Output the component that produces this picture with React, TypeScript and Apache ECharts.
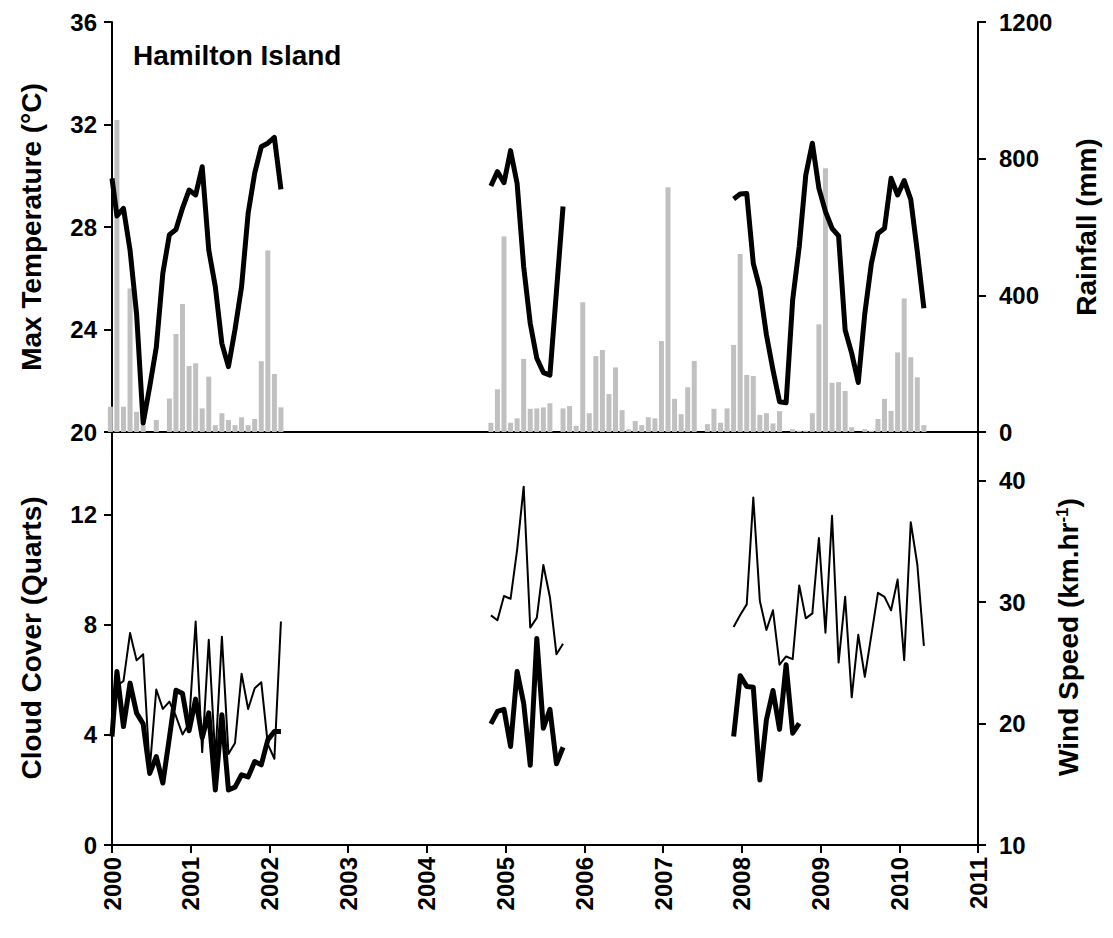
import React, { useEffect, useRef } from "react";
import * as echarts from "echarts";

// Month position inside each month (fraction of month) for plotting on the year axis
const DAY_OFFSET = 0.75;

// Segment start months [year, month]
const startA = [2000, 1];
const startRainA = [1999, 12];
const startB = [2004, 10];
const startC = [2007, 11];

// Values where the first segment enters the plot at 1 Jan 2000
const tempAt2000 = 29.9;
const cloudAt2000 = 3.94;
const windAt2000 = 19.0;

// Max temperature (°C)
const tempA = [28.43, 28.73, 27.1, 24.6, 20.35, 21.77, 23.3, 26.2, 27.7, 27.9, 28.74, 29.44,
  29.25, 30.35, 27.1, 25.67, 23.45, 22.55, 24.0, 25.67, 28.53, 30.1, 31.13, 31.27, 31.5, 29.47];
const tempB = [29.6, 30.16, 29.73, 30.98, 29.7, 26.45, 24.24, 22.88, 22.32, 22.22, 25.5, 28.8];
const tempC = [29.09, 29.29, 29.31, 26.58, 25.6, 23.79, 22.42, 21.18, 21.14, 25.15, 27.23, 30.03, 31.27,
  29.51, 28.6, 27.95, 27.65, 23.98, 23.07, 21.93, 24.63, 26.58, 27.75, 27.95, 29.9, 29.25,
  29.81, 29.08, 27.04, 24.83];

// Rainfall (mm)
const rainA = [74, 913, 74, 420, 59, 20, 0, 35, 0, 98, 287, 375, 193,
  201, 69, 162, 20, 55, 35, 20, 43, 20, 38, 207, 531, 170, 72];
const rainB = [27, 125, 572,
  27, 40, 214, 68, 69, 72, 84, 0, 69, 76, 18, 380,
  55, 222, 240, 111, 189, 64, 8, 32, 20, 43, 40, 266,
  716, 97, 52, 131, 208, 0, 23, 68, 27, 69, 255, 521,
  167, 164, 50, 55, 25, 61, 0, 8, 4, 4, 55, 315,
  772, 144, 146, 120, 14, 0, 8, 4, 38, 97, 62, 233,
  391, 219, 160, 20];

// Cloud cover (quarts)
const cloudA = [6.3, 4.3, 5.88, 4.79, 4.4, 2.6, 3.21, 2.25, 3.9, 5.62, 5.5, 4.15,
  5.3, 3.9, 4.8, 2.0, 4.73, 2.0, 2.1, 2.55, 2.47, 3.03, 2.91, 3.82, 4.12, 4.12];
const cloudB = [4.4, 4.85, 4.93, 3.58, 6.3, 5.15, 2.9, 7.5, 4.24, 4.93, 2.95, 3.55];
const cloudC = [3.94, 6.15, 5.76, 5.73, 2.36, 4.55, 5.61, 4.2, 6.55, 4.06, 4.42];

// Wind speed (km/hr)
const windA = [23.1, 23.5, 27.45, 25.2, 25.7, 16.2, 22.8, 21.2, 21.8, 20.6, 19.1, 20.0,
  28.4, 17.65, 26.9, 17.1, 27.15, 17.5, 18.4, 24.1, 21.2, 22.9, 23.4, 18.3, 17.1, 28.4];
const windB = [28.9, 28.5, 30.5, 30.27, 34.3, 39.5, 27.9, 28.7, 33.05, 30.4, 25.7, 26.57];
const windC = [27.95, 28.93, 29.81, 38.6, 30.08, 27.7, 29.32, 24.84, 25.52, 25.3, 31.37, 28.66,
  29.07, 35.27, 27.48, 37.1, 25.02, 30.43, 22.16, 27.3, 23.85, 27.3, 30.76, 30.43, 29.32,
  31.86, 25.22, 36.58, 33.09, 26.39];

// Axis ranges / ticks
const X_MIN = 2000;
const X_MAX = 2011;
const TEMP_TICKS = [20, 24, 28, 32, 36];
const RAIN_TICKS = [0, 400, 800, 1200];
const CLOUD_TICKS = [0, 4, 8, 12];
const WIND_TICKS = [10, 20, 30, 40];
const CLOUD_MAX = 15;
const WIND_MAX = 44;

function toPairs(start: number[], values: number[]) {
  return values.map((v, i) => {
    const m = start[1] - 1 + i;
    return [start[0] + (m + DAY_OFFSET) / 12, v];
  });
}

const FONT = '"Liberation Sans", Arial, Helvetica, sans-serif';
const TICK_FONT = 24;
const TITLE_FONT = 28;

export default function App() {
  const ref = useRef<HTMLDivElement>(null);

  useEffect(() => {
    if (!ref.current) return;
    const chart = echarts.init(ref.current, null, { renderer: "svg" });

    const axisLine = { show: true, onZero: false, lineStyle: { color: "#000", width: 2 } };
    const tickStyle = { show: true, inside: false, length: 8, lineStyle: { color: "#000", width: 2 } };
    const labelBase = {
      color: "#000",
      fontSize: TICK_FONT,
      fontWeight: "bold" as const,
      fontFamily: FONT,
      formatter: (v: number) => String(v),
    };

    const yBase = (grid: number, pos: "left" | "right", ticks: number[], max: number, margin: number, hideMax: boolean) => ({
      type: "value",
      gridIndex: grid,
      position: pos,
      min: ticks[0],
      max,
      interval: ticks[1] - ticks[0],
      axisLine,
      axisTick: tickStyle,
      splitLine: { show: false },
      axisLabel: { ...labelBase, margin, showMaxLabel: !hideMax },
    });

    const line = (data: number[][], xi: number, yi: number, width: number) => ({
      type: "line",
      xAxisIndex: xi,
      yAxisIndex: yi,
      data,
      showSymbol: false,
      symbol: "none",
      clip: true,
      lineStyle: { color: "#000", width, join: "round" },
      itemStyle: { color: "#000" },
      z: 3,
    });

    const rain = [...toPairs(startRainA, rainA), ...toPairs(startB, rainB)];

    const option: any = {
      animation: false,
      backgroundColor: "#fff",
      grid: [
        { left: 112, right: 135, top: 22, height: 410 },
        { left: 112, right: 135, top: 432, height: 413 },
      ],
      xAxis: [
        {
          type: "value", gridIndex: 0, min: X_MIN, max: X_MAX, interval: 1,
          axisLine, axisTick: { show: false }, axisLabel: { show: false }, splitLine: { show: false },
        },
        {
          type: "value", gridIndex: 1, min: X_MIN, max: X_MAX, interval: 1,
          axisLine, axisTick: tickStyle, splitLine: { show: false },
          axisLabel: { ...labelBase, rotate: 90, margin: 12 },
        },
      ],
      yAxis: [
        yBase(0, "left", TEMP_TICKS, TEMP_TICKS[TEMP_TICKS.length - 1], 15, false),
        yBase(0, "right", RAIN_TICKS, RAIN_TICKS[RAIN_TICKS.length - 1], 21, false),
        yBase(1, "left", CLOUD_TICKS, CLOUD_MAX, 15, true),
        yBase(1, "right", WIND_TICKS, WIND_MAX, 21, true),
      ],
      series: [
        {
          type: "bar",
          xAxisIndex: 0,
          yAxisIndex: 1,
          data: rain,
          barWidth: 5,
          clip: true,
          itemStyle: { color: "#c0c0c0" },
          z: 1,
        },
        line([[X_MIN, tempAt2000], ...toPairs(startA, tempA)], 0, 0, 5),
        line(toPairs(startB, tempB), 0, 0, 5),
        line(toPairs(startC, tempC), 0, 0, 5),
        line([[X_MIN, windAt2000], ...toPairs(startA, windA)], 1, 3, 2),
        line(toPairs(startB, windB), 1, 3, 2),
        line(toPairs(startC, windC), 1, 3, 2),
        line([[X_MIN, cloudAt2000], ...toPairs(startA, cloudA)], 1, 2, 5),
        line(toPairs(startB, cloudB), 1, 2, 5),
        line(toPairs(startC, cloudC), 1, 2, 5),
      ],
      graphic: [
        {
          type: "text", x: 133, y: 55,
          style: { text: "Hamilton Island", fontSize: TITLE_FONT, fontWeight: "bold", fontFamily: FONT, fill: "#000", align: "left", verticalAlign: "middle" },
        },
        {
          type: "text", x: 31, y: 227, rotation: Math.PI / 2,
          style: { text: "Max Temperature (°C)", fontSize: TITLE_FONT, fontWeight: "bold", fontFamily: FONT, fill: "#000", align: "center", verticalAlign: "middle" },
        },
        {
          type: "text", x: 31, y: 638, rotation: Math.PI / 2,
          style: { text: "Cloud Cover (Quarts)", fontSize: TITLE_FONT, fontWeight: "bold", fontFamily: FONT, fill: "#000", align: "center", verticalAlign: "middle" },
        },
        {
          type: "text", x: 1086, y: 227, rotation: Math.PI / 2,
          style: { text: "Rainfall (mm)", fontSize: TITLE_FONT, fontWeight: "bold", fontFamily: FONT, fill: "#000", align: "center", verticalAlign: "middle" },
        },
        {
          type: "text", x: 1068, y: 637, rotation: Math.PI / 2,
          style: {
            text: "Wind Speed (km.hr{sup|-1})",
            fontSize: TITLE_FONT, fontWeight: "bold", fontFamily: FONT, fill: "#000", align: "center", verticalAlign: "middle",
            rich: {
              sup: { fontSize: 17, fontWeight: "bold", fontFamily: FONT, fill: "#000", verticalAlign: "top", padding: [0, 0, 12, 0] },
            },
          },
        },
      ],
    };

    chart.setOption(option);
    return () => chart.dispose();
  }, []);

  return (
    <div
      ref={ref}
      style={{ position: "absolute", left: 0, top: 0, width: 1113, height: 938, background: "#fff" }}
    />
  );
}
